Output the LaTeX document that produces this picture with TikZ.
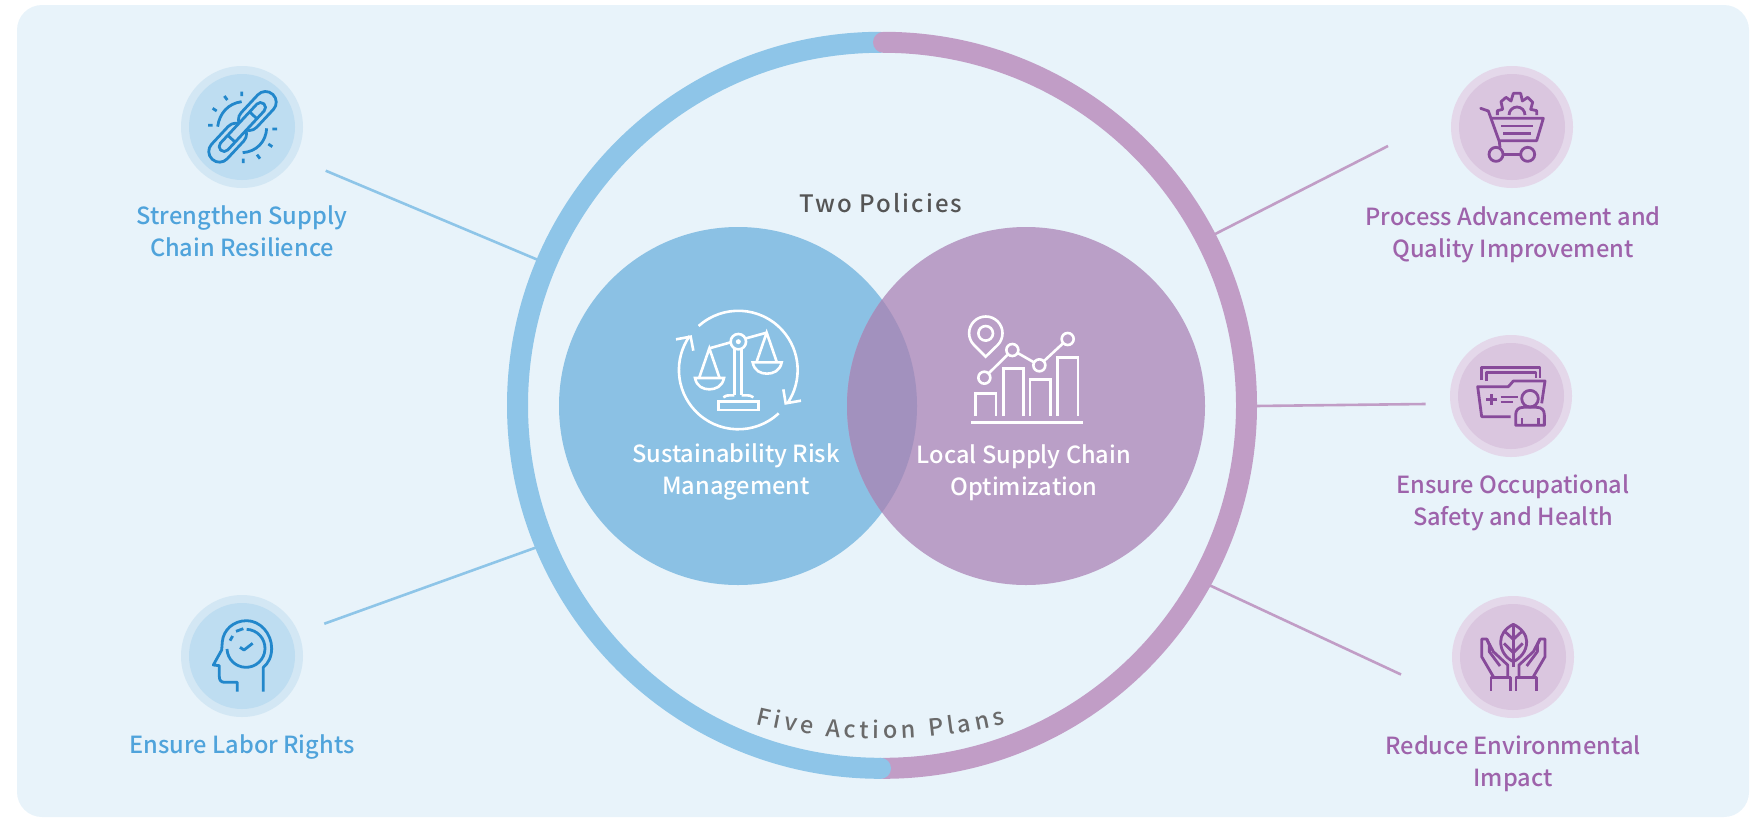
\documentclass[tikz,border=0pt]{standalone}
\usepackage{fontspec}
\usetikzlibrary{decorations.text}
\setmainfont{Noto Sans CJK TC Medium}
\newfontfamily\spacedA[LetterSpace=8.5]{Noto Sans CJK TC Medium}
\newfontfamily\fivefont{Noto Sans CJK TC Medium}
\definecolor{bgc}{HTML}{E8F3FA}
\definecolor{bluec}{HTML}{8BC1E4}
\definecolor{purc}{HTML}{BA9FC7}
\definecolor{ovlc}{HTML}{A291BE}
\definecolor{ringb}{HTML}{8EC5E8}
\definecolor{ringp}{HTML}{C19DC6}
\definecolor{blueo}{HTML}{D3E7F4}
\definecolor{bluei}{HTML}{BEDDF1}
\definecolor{puro}{HTML}{E4D8EA}
\definecolor{puri}{HTML}{DAC6DF}
\definecolor{blues}{HTML}{2287CB}
\definecolor{purs}{HTML}{874A9A}
\definecolor{bluet}{HTML}{4FA3DB}
\definecolor{purt}{HTML}{9E63AB}
\definecolor{greyt}{HTML}{555555}
\definecolor{greyf}{HTML}{6A6A6A}
\tikzset{
  lab/.style={font=\fontsize{23.6}{32}\selectfont,align=center,inner sep=0pt},
  labb/.style={lab,text=bluet},
  labp/.style={lab,text=purt},
  labw/.style={lab,text=white},
  linkb/.style={draw=ringb,line width=2.6pt},
  linkp/.style={draw=ringp,line width=2.6pt},
  iconb/.style={draw=blues,line width=2.8pt,line join=round},
  iconp/.style={draw=purs,line width=2.8pt,line join=round},
  iconw/.style={draw=white,line width=2.6pt,line join=miter},
}
\begin{document}
\begin{tikzpicture}[x=1pt,y=-1pt]
\useasboundingbox (0,0) rectangle (1760,817);
\fill[bgc,rounded corners=25pt] (17,5) rectangle (1749,817);

% ring
\draw[ringb,line width=21pt,line cap=round] (880.5,768.3) arc[start angle=270,end angle=90,radius=363pt];
\draw[ringp,line width=21pt,line cap=round] (883.5,42.3) arc[start angle=90,end angle=-90,radius=363pt];
\fill[ringb] (880.5,768.3) circle[radius=10.5pt];

% big circles
\fill[bluec] (738,406) circle[radius=179pt];
\fill[purc] (1026,406) circle[radius=179pt];
\begin{scope}
\clip (738,406) circle[radius=179pt];
\fill[ovlc] (1026,406) circle[radius=179pt];
\end{scope}

% connectors
\coordinate (b1a) at (325.7,170.7); \coordinate (b1b) at (537,259.5);
\coordinate (b2a) at (324.3,623.7); \coordinate (b2b) at (536,547.5);
\coordinate (p1a) at (1388,146); \coordinate (p1b) at (1214,234.6);
\coordinate (p2a) at (1425.5,404); \coordinate (p2b) at (1255,406);
\coordinate (p3a) at (1401,674.5); \coordinate (p3b) at (1209,585);
\draw[linkb] (b1a) -- (b1b);
\draw[linkb] (b2a) -- (b2b);
\draw[linkp] (p1a) -- (p1b);
\draw[linkp] (p2a) -- (p2b);
\draw[linkp] (p3a) -- (p3b);

% icon discs
\foreach \p in {(242,127),(242,656)}{
  \fill[blueo] \p circle[radius=61pt];
  \fill[bluei] \p circle[radius=53pt];
}
\foreach \p in {(1512,127),(1511,396),(1513,657)}{
  \fill[puro] \p circle[radius=61pt];
  \fill[puri] \p circle[radius=53pt];
}

% chain icon
\begin{scope}[shift={(140,40)},x=.33333pt,y=-.33333pt,iconb]
\draw (305,155)--(305,168) (253,168)--(262,180) (218,205)--(230,213) (204,256)--(218,256);
\draw (397,267)--(411,267) (385,312)--(397,320) (351,344)--(360,356) (310,356)--(310,369);
\draw (233,260) .. controls (238,220) and (265,190) .. (305,185);
\draw (380,265) .. controls (378,305) and (350,335) .. (308,338);
\begin{scope}[shift={(352,213)},rotate=47]
\draw[rounded corners=10.5pt] (-68,-32) rectangle (68,32);
\end{scope}
\begin{scope}[shift={(263,308)},rotate=47]
\draw[fill=bluei,rounded corners=10.5pt] (-68,-32) rectangle (68,32);
\end{scope}
\begin{scope}[shift={(307,261)},rotate=47]
\draw[fill=bluei,rounded corners=5pt] (-95,-15) rectangle (95,15);
\draw (-48,-15)--(-48,15) (48,-15)--(48,15);
\end{scope}
\end{scope}

% head icon
\begin{scope}[shift={(140,570)},x=.33333pt,y=-.33333pt,iconb]
\draw (370,365)--(370,292) .. controls (385,280) and (395,260) .. (395,235) .. controls (395,190) and (360,152) .. (320,152) .. controls (280,152) and (250,180) .. (247,215) -- (245,240) -- (220,285) -- (238,287) -- (238,320) .. controls (238,332) and (244,337) .. (255,337) -- (292,337) -- (292,365);
\draw (320,178) arc[start angle=88,end angle=-178,radius=19pt];
\draw (270,212)--(278,198) (288,184)--(310,176);
\draw (300,232)--(312,240)--(338,220);
\end{scope}

% scales icon
\begin{scope}[shift={(640,290)},x=.33333pt,y=-.33333pt,iconw]
\draw (176,108) arc[start angle=132,end angle=-34,radius=59.3pt];
\draw (416,370) arc[start angle=-47,end angle=-215,radius=59.3pt];
\draw (430,298)--(437,340)--(483,332);
\draw (108,148)--(152,140)--(160,182);
\draw (208,175)--(272,157) (318,145)--(380,128);
\draw (295,155) circle[radius=7.7pt];
\fill[white] (295,155) circle[radius=2.5pt];
\draw (283,178)--(283,315) (305,178)--(305,315);
\draw (250,322) .. controls (255,316) and (260,316) .. (283,316) (305,316) .. controls (330,316) and (335,316) .. (340,322);
\draw (235,335) rectangle (355,360);
\draw (178,262)--(208,175)--(238,262);
\draw (165,264) .. controls (170,290) and (190,298) .. (208,298) .. controls (226,298) and (247,290) .. (252,264) -- cycle;
\draw (350,215)--(380,128)--(410,215);
\draw (338,217) .. controls (343,243) and (362,251) .. (381,251) .. controls (399,251) and (420,243) .. (425,217) -- cycle;
\end{scope}

% chart icon
\begin{scope}[shift={(940,290)},x=.33333pt,y=-.33333pt,iconw]
\draw (102,165) arc[start angle=225,end angle=-45,radius=16.7pt] -- (137,200) -- cycle;
\draw (137,130) circle[radius=7.3pt];
\draw (133,263) circle[radius=6pt] (217,180) circle[radius=6pt] (298,226) circle[radius=6pt] (383,147) circle[radius=6pt];
\draw (146,250)--(204,193) (233,189)--(282,217) (312,213)--(369,160);
\draw (106,378)--(106,310)--(168,310)--(168,378);
\draw (190,378)--(190,235)--(250,235)--(250,378);
\draw (270,378)--(270,268)--(331,268)--(331,378);
\draw (352,378)--(352,202)--(414,202)--(414,378);
\draw (93,397)--(428,397);
\end{scope}

% cart icon
\begin{scope}[shift={(1430,50)},x=.33333pt,y=-.33333pt,iconp]
\draw[line cap=round] (152,175)--(175,183)--(208,275)--(210,292);
\draw (182,205)--(340,205)--(320,272)--(206,272);
\draw (213,228)--(310,228) (220,250)--(302,250);
\draw (198,313) circle[radius=7pt] (293,313) circle[radius=7pt];
\draw (218,313)--(273,313);
\draw (202,195)--(202,182)--(218,178)--(213,155)--(228,142)--(243,153)--(250,130)--(272,130)--(277,153)--(293,142)--(308,157)--(302,178)--(320,182)--(320,195);
\draw (237,195) arc[start angle=180,end angle=0,radius=8pt];
\end{scope}

% folder icon
\begin{scope}[shift={(1430,320)},x=.33333pt,y=-.33333pt,iconp]
\draw (155,180)--(155,143)--(330,143)--(330,175);
\draw (170,183)--(170,158)--(318,158)--(318,175);
\draw (242,290)--(155,290)--(143,200)--(235,200)--(250,183)--(345,183)--(335,250);
\draw (168,238)--(200,238) (184,222)--(184,254);
\draw (212,231)--(263,231) (212,246)--(250,246);
\draw (300,236) circle[radius=8.3pt];
\draw (257,316)--(343,316)--(343,285) .. controls (343,270) and (335,262) .. (320,262) -- (280,262) .. controls (265,262) and (257,270) .. (257,285) -- cycle;
\draw (276,295)--(276,316) (325,295)--(325,316);
\end{scope}

% hands icon
\begin{scope}[shift={(1430,580)},x=.33333pt,y=-.33333pt,iconp]
\draw (250,133) .. controls (275,145) and (290,165) .. (290,185) .. controls (290,215) and (270,235) .. (250,245) .. controls (230,235) and (212,215) .. (212,185) .. controls (212,165) and (225,145) .. (250,133) -- cycle;
\draw (250,133)--(250,260);
\draw (225,155)--(250,178)--(275,155) (222,190)--(250,218)--(278,190);
\draw (183,332)--(183,292)--(242,292)--(242,332);
\draw (258,332)--(258,292)--(320,292)--(320,332);
\draw (190,290)--(155,230)--(155,177)--(170,177)--(178,195)--(178,215)--(210,258);
\draw (170,177)--(190,215)--(233,255)--(233,292);
\draw (310,290)--(345,230)--(345,177)--(330,177)--(322,195)--(322,215)--(290,258);
\draw (330,177)--(310,215)--(267,255)--(267,292);
\end{scope}

% labels
\node[labb] (t1) at (242,231.5) {Strengthen Supply\\Chain Resilience};
\node[labb] (t2) at (242,746.5) {Ensure Labor Rights};
\node[labp] (t3) at (1513,234.5) {Process Advancement and\\Quality Improvement};
\node[labp] (t4) at (1513,502.5) {Ensure Occupational\\Safety and Health};
\node[labp] (t5) at (1513,763.5) {Reduce Environmental\\Impact};
\node[labw] (t6) at (736,472.5) {Sustainability Risk\\Management};
\node[labw] (t7) at (1024,472.5) {Local Supply Chain\\Optimization};
\node[inner sep=0pt,text=greyt,font=\spacedA\fontsize{24}{28}\selectfont] (t8) at (881,203) {Two Policies};
\path[decorate,decoration={text along path,text align=fit to path,text={|\fivefont\fontsize{23.5}{28}\selectfont\color{greyf}|Five Action Plans}}]
  (755.9,724) arc[start angle=256.4,end angle=283.6,radius=530pt];
\end{tikzpicture}
\end{document}
